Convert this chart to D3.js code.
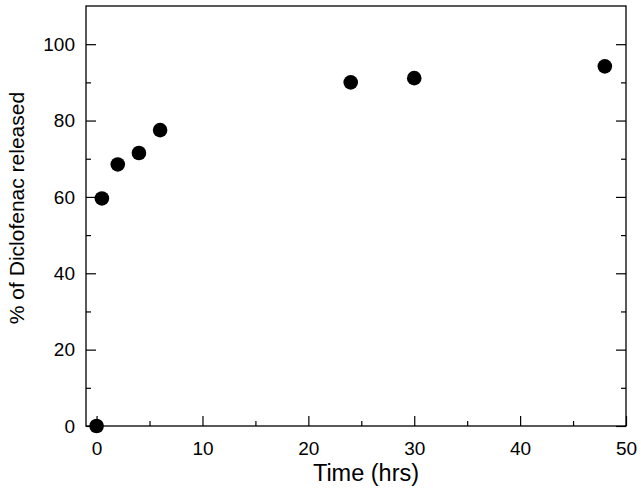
<!DOCTYPE html>
<html>
<head>
<meta charset="utf-8">
<script src="https://cdn.jsdelivr.net/npm/d3@7"></script>
<style>
  body { margin: 0; background: #fff; }
  text { font-family: "Liberation Sans", Arial, sans-serif; fill: #000; }
</style>
</head>
<body>
<div id="chart"></div>
<script>
// data
var timeHrs = [0, 0.5, 2, 4, 6, 24, 30, 48];
var released = [0, 59.6, 68.5, 71.5, 77.5, 90.0, 91.1, 94.2];

var xTicks = [0, 10, 20, 30, 40, 50];
var xMinor = [5, 15, 25, 35, 45];
var yTicks = [0, 20, 40, 60, 80, 100];
var yMinor = [10, 30, 50, 70, 90];

var svgWidth = 641;
var svgHeight = 491;

var margin = { top: 6, right: 15, bottom: 65, left: 86 };
var width = svgWidth - margin.left - margin.right;
var height = svgHeight - margin.top - margin.bottom;

var svg = d3.select("#chart")
  .append("svg")
  .attr("width", svgWidth)
  .attr("height", svgHeight);

var chartGroup = svg.append("g")
  .attr("transform", `translate(${margin.left}, ${margin.top})`);

var xScale = d3.scaleLinear().domain([-1, 50]).range([0, width]);
var yScale = d3.scaleLinear().domain([0, 110]).range([height, 0]);

// frame
chartGroup.append("rect")
  .attr("width", width)
  .attr("height", height)
  .attr("fill", "none")
  .attr("stroke", "#000")
  .attr("stroke-width", 1.3);

// bottom axis, ticks pointing inward
var bottom = chartGroup.append("g")
  .attr("transform", `translate(0,${height})`)
  .call(d3.axisBottom(xScale).tickValues(xTicks).tickSize(-10).tickPadding(16).tickSizeOuter(0));
bottom.call(g => g.select(".domain").remove());
bottom.selectAll("text").style("font-size", "19px");

chartGroup.append("g")
  .attr("transform", `translate(0,${height})`)
  .call(d3.axisBottom(xScale).tickValues(xMinor).tickSize(-5).tickFormat("").tickSizeOuter(0))
  .call(g => g.select(".domain").remove());

// left axis
var left = chartGroup.append("g")
  .call(d3.axisLeft(yScale).tickValues(yTicks).tickSize(-10).tickPadding(11).tickSizeOuter(0));
left.call(g => g.select(".domain").remove());
left.selectAll("text").style("font-size", "19px");

chartGroup.append("g")
  .call(d3.axisLeft(yScale).tickValues(yMinor).tickSize(-5).tickFormat("").tickSizeOuter(0))
  .call(g => g.select(".domain").remove());

// right axis mirrored ticks
chartGroup.append("g")
  .attr("transform", `translate(${width},0)`)
  .call(d3.axisRight(yScale).tickValues(yTicks).tickSize(-10).tickFormat("").tickSizeOuter(0))
  .call(g => g.select(".domain").remove());

chartGroup.append("g")
  .attr("transform", `translate(${width},0)`)
  .call(d3.axisRight(yScale).tickValues(yMinor).tickSize(-5).tickFormat("").tickSizeOuter(0))
  .call(g => g.select(".domain").remove());

chartGroup.selectAll(".tick line").attr("stroke", "#000").attr("stroke-width", 1.2);

// points
chartGroup.selectAll("circle")
  .data(timeHrs)
  .enter()
  .append("circle")
  .attr("cx", d => xScale(d))
  .attr("cy", (d, i) => yScale(released[i]))
  .attr("r", 7.3)
  .attr("fill", "#000");

// axis titles
svg.append("text")
  .attr("x", 366)
  .attr("y", 481)
  .attr("text-anchor", "middle")
  .style("font-size", "23.5px")
  .text("Time (hrs)");

svg.append("text")
  .attr("transform", "translate(24,208) rotate(-90)")
  .attr("text-anchor", "middle")
  .style("font-size", "21px")
  .text("% of Diclofenac released");
</script>
</body>
</html>
